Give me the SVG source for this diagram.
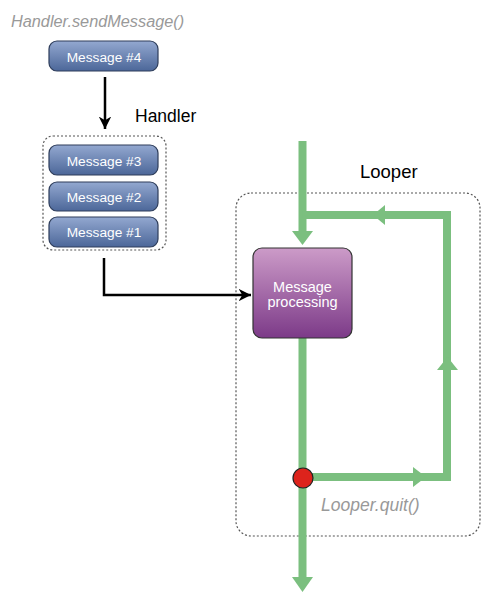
<svg xmlns="http://www.w3.org/2000/svg" width="503" height="595" viewBox="0 0 503 595">
<defs>
<linearGradient id="blue" x1="0" y1="0" x2="0" y2="1">
<stop offset="0" stop-color="#93a8d0"/>
<stop offset="1" stop-color="#4c6799"/>
</linearGradient>
<linearGradient id="purple" x1="0" y1="0" x2="0" y2="1">
<stop offset="0" stop-color="#cc9bc8"/>
<stop offset="1" stop-color="#7c3a88"/>
</linearGradient>
<marker id="blk" viewBox="0 0 10 10" refX="10" refY="5" markerWidth="5" markerHeight="5" markerUnits="strokeWidth" orient="auto">
<path d="M0,0 L10,5 L0,10 L3,5 Z" fill="#000"/>
</marker>
</defs>
<style>
.msg rect{fill:url(#blue);stroke:#2e3d5a;stroke-width:1.2}
.msg text{font-family:"Liberation Sans",Arial,sans-serif;font-size:13.7px;fill:#fff;text-anchor:middle}
.dash{fill:none;stroke:#555;stroke-width:1.2;stroke-dasharray:2 2}
.green{fill:none;stroke:#7bbf7f;stroke-width:8}
.gh{fill:#7bbf7f}
.black{fill:none;stroke:#000;stroke-width:2.5}
.ital{font-family:"Liberation Sans",Arial,sans-serif;font-style:italic;fill:#999}
.lbl{font-family:"Liberation Sans",Arial,sans-serif;fill:#000}
.proc{font-family:"Liberation Sans",Arial,sans-serif;font-size:14.5px;fill:#fff;text-anchor:middle}
</style>
<rect width="503" height="595" fill="#fff"/>

<text class="ital" x="11" y="27" font-size="16.3">Handler.sendMessage()</text>
<text id="handler-label" class="lbl" x="135" y="122" font-size="17.5">Handler</text>
<text id="looper-label" class="lbl" x="360" y="178" font-size="18.5">Looper</text>

<g id="handler-queue">
<rect class="dash" x="43" y="136" width="123" height="114" rx="10"/>
</g>
<g id="looper-box">
<rect class="dash" x="236" y="193" width="244" height="343" rx="15"/>
</g>

<g id="connectors">
<line class="black" x1="105" y1="77" x2="105" y2="129" marker-end="url(#blk)"/>
<polyline class="black" points="104,258 104,295 251,295" marker-end="url(#blk)"/>
<path class="green" d="M302.5,141 V235"/>
<path class="green" d="M302.5,215 H447 V477 H302.5"/>
<path class="green" d="M302.5,338 V580"/>
<polygon class="gh" points="292,231 313,231 302.5,245"/>
<polygon class="gh" points="385,205 385,225 373,215"/>
<polygon class="gh" points="437,370 458,370 447.5,357"/>
<polygon class="gh" points="413,467 413,487 426,477"/>
<polygon class="gh" points="292,577 313,577 302.5,592"/>
</g>

<g id="msg4" class="msg">
<rect x="49" y="41" width="109" height="30" rx="8"/>
<text x="104" y="62">Message #4</text>
</g>
<g id="msg3" class="msg">
<rect x="49" y="145" width="109" height="30" rx="8"/>
<text x="104" y="166">Message #3</text>
</g>
<g id="msg2" class="msg">
<rect x="49" y="182" width="109" height="29" rx="8"/>
<text x="104" y="202">Message #2</text>
</g>
<g id="msg1" class="msg">
<rect x="49" y="217" width="109" height="30" rx="8"/>
<text x="104" y="237">Message #1</text>
</g>

<g id="processing">
<rect x="253" y="248" width="99" height="90" rx="9" fill="url(#purple)" stroke="#333" stroke-width="1.2"/>
<text class="proc" x="302.5" y="292">Message</text>
<text class="proc" x="302.5" y="307">processing</text>
</g>

<g id="quit">
<circle cx="303" cy="478" r="10" fill="#dd231c" stroke="#222" stroke-width="1.2"/>
<text class="ital" x="321" y="511" font-size="17.5">Looper.quit()</text>
</g>
</svg>
